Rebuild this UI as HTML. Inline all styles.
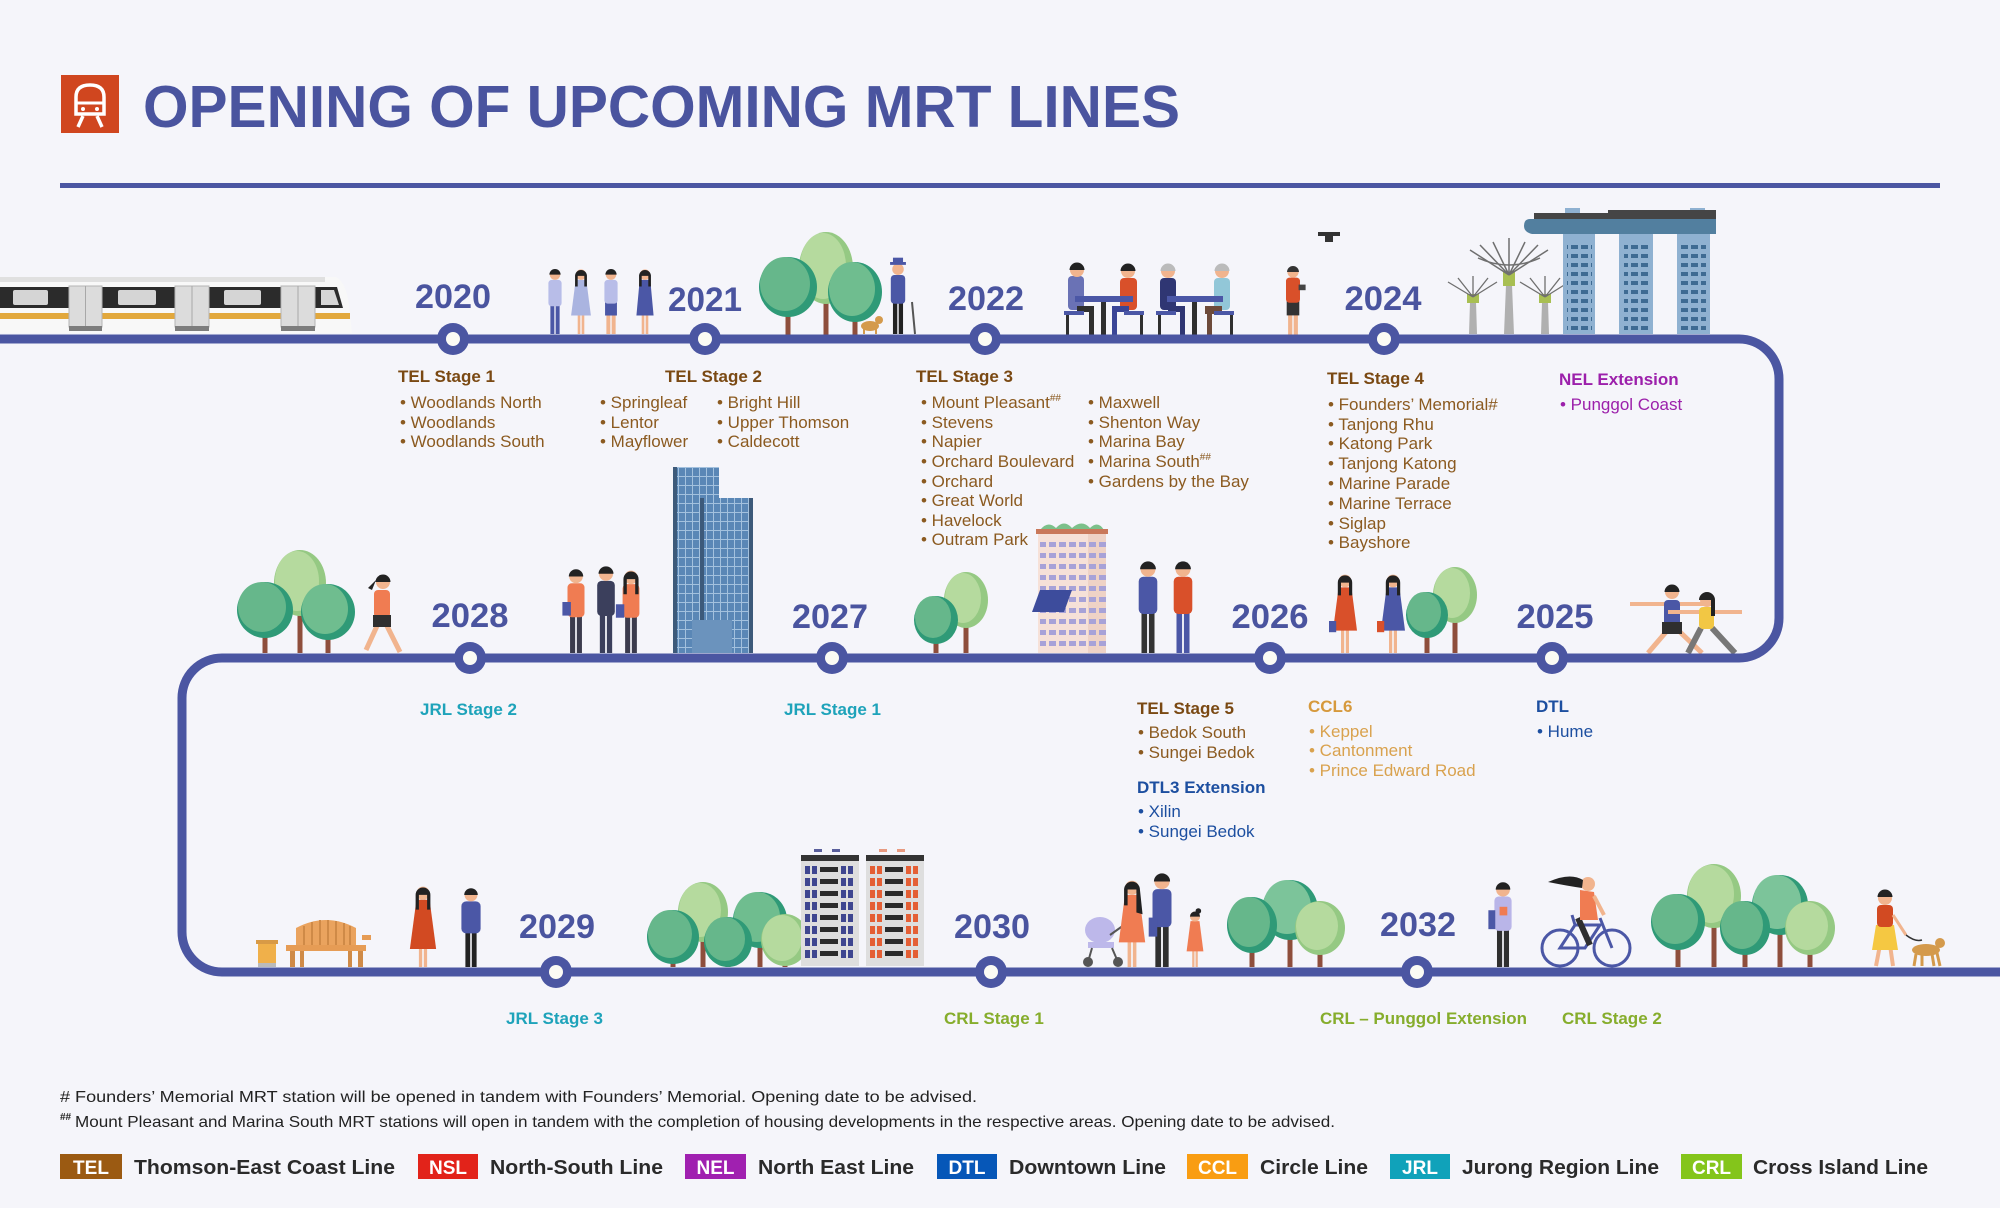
<!DOCTYPE html>
<html><head><meta charset="utf-8">
<style>
html,body{margin:0;padding:0;background:#f5f5fa;}
svg{display:block}
text{font-family:"Liberation Sans",Arial,sans-serif}
.yr{font-size:34px;font-weight:bold;fill:#4a549f;text-anchor:middle}
.lb{font-size:17px;font-weight:bold}
.st{font-size:17px}
.telL{fill:#7a4913}.tel{fill:#8b5a20}
.nel{fill:#9c20ab}.dtl{fill:#1d4fa0}.ccl{fill:#d9a24e}.cclL{fill:#d6993c}
.jrl{fill:#1ea3ba}.crl{fill:#86ad2c}
.fn{font-size:16px;fill:#222}
.lg{font-size:20px;font-weight:bold;fill:#2a2a2a}
.bx{font-size:19px;font-weight:bold;fill:#fff;text-anchor:middle}
</style></head><body>
<svg width="2000" height="1208" viewBox="0 0 2000 1208" xmlns="http://www.w3.org/2000/svg">
<defs>
<pattern id="tw" width="7" height="9" patternUnits="userSpaceOnUse"><rect width="7" height="9" fill="#5a87b6"/><rect x="6" width="1" height="9" fill="#a3c1de"/><rect y="8" width="7" height="1" fill="#a3c1de"/></pattern>
<pattern id="mbs" x="0" y="0" width="10" height="9" patternUnits="userSpaceOnUse"><rect x="1" y="2" width="7" height="4" fill="#3e6b93"/></pattern>
<pattern id="hdb2" x="1038" y="540" width="10" height="11" patternUnits="userSpaceOnUse"><rect x="1" y="2" width="7" height="5" fill="#a7a2d8"/></pattern>
<pattern id="hdbL" x="801" y="866" width="58" height="12" patternUnits="userSpaceOnUse"><rect x="4" y="0" width="5" height="8" fill="#3e4690"/><rect x="11" y="0" width="5" height="8" fill="#3e4690"/><rect x="19" y="1" width="18" height="5" fill="#2b2b2b"/><rect x="40" y="0" width="5" height="8" fill="#3e4690"/><rect x="47" y="0" width="5" height="8" fill="#3e4690"/></pattern>
<pattern id="hdbR" x="866" y="866" width="58" height="12" patternUnits="userSpaceOnUse"><rect x="4" y="0" width="5" height="8" fill="#e45f35"/><rect x="11" y="0" width="5" height="8" fill="#e45f35"/><rect x="19" y="1" width="18" height="5" fill="#2b2b2b"/><rect x="40" y="0" width="5" height="8" fill="#e45f35"/><rect x="47" y="0" width="5" height="8" fill="#e45f35"/></pattern>
</defs>
<rect width="2000" height="1208" fill="#f5f5fa"/>

<!-- Header -->
<rect x="61" y="75" width="58" height="58" fill="#d0461f"/>
<path d="M76 114 V97 Q76 85 90 85 Q104 85 104 97 V114 Z" stroke="#fff" stroke-width="3.5" fill="none"/>
<line x1="76" y1="103" x2="104" y2="103" stroke="#fff" stroke-width="3"/>
<circle cx="83" cy="109" r="2" fill="#fff"/><circle cx="97" cy="109" r="2" fill="#fff"/>
<line x1="83" y1="116" x2="78" y2="127" stroke="#fff" stroke-width="3.5"/>
<line x1="97" y1="116" x2="102" y2="127" stroke="#fff" stroke-width="3.5"/>
<text x="143" y="127" font-size="59" font-weight="bold" fill="#4a549f" textLength="1037" lengthAdjust="spacingAndGlyphs">OPENING OF UPCOMING MRT LINES</text>
<rect x="60" y="183" width="1880" height="5" fill="#4b56a2"/>

<!-- ===== Row 1 illustrations ===== -->
<!-- Train -->
<g>
<rect x="0" y="277" width="330" height="56" fill="#f8f8f8"/>
<rect x="0" y="277" width="326" height="5" fill="#e0e0e0"/>
<path d="M325 277 L336 277 Q346 282 349 305 L352 333 L325 333 Z" fill="#f8f8f8"/>
<rect x="0" y="287" width="322" height="21" fill="#2b2b2b"/>
<path d="M318 287 L337 287 L343 308 L318 308 Z" fill="#2b2b2b"/>
<path d="M321 290 L334 290 L339 305 L321 305 Z" fill="#d6d6d6"/>
<rect x="13" y="290" width="35" height="15" rx="2" fill="#d5d5d5"/>
<rect x="118" y="290" width="38" height="15" rx="2" fill="#d5d5d5"/>
<rect x="224" y="290" width="37" height="15" rx="2" fill="#d5d5d5"/>
<rect x="0" y="313" width="350" height="6" fill="#e2a83c"/>
<rect x="69" y="286" width="33" height="41" fill="#dcdcdc" stroke="#b5b5b5"/><line x1="85.5" y1="286" x2="85.5" y2="327" stroke="#a8a8a8"/><rect x="69" y="326" width="33" height="5" fill="#7d7d7d"/>
<rect x="175" y="286" width="34" height="41" fill="#dcdcdc" stroke="#b5b5b5"/><line x1="192" y1="286" x2="192" y2="327" stroke="#a8a8a8"/><rect x="175" y="326" width="34" height="5" fill="#7d7d7d"/>
<rect x="281" y="286" width="34" height="41" fill="#dcdcdc" stroke="#b5b5b5"/><line x1="298" y1="286" x2="298" y2="327" stroke="#a8a8a8"/><rect x="281" y="326" width="34" height="5" fill="#7d7d7d"/>
</g>

<!-- Children -->
<g transform="translate(555 334) scale(0.66)"><rect x="-7" y="-47" width="6" height="47" fill="#4b57a6"/><rect x="1" y="-47" width="6" height="47" fill="#4b57a6"/><rect x="-10" y="-82" width="20" height="40" rx="5" fill="#b8bde8"/><circle cy="-90" r="8" fill="#f1b48e"/><path d="M-8.5 -90 A8.5 8.5 0 0 1 8.5 -90 Z" fill="#222"/></g>
<g transform="translate(581 334) scale(0.66)"><rect x="-5" y="-30" width="4" height="30" fill="#f1b48e"/><rect x="1" y="-30" width="4" height="30" fill="#f1b48e"/><path d="M-8 -82 L8 -82 L15 -28 L-15 -28 Z" fill="#aab4e0"/><circle cy="-90" r="8" fill="#f1b48e"/><path d="M-9 -88 A9 9 0 0 1 9 -88 L9 -72 L5 -72 L5 -88 L-5 -88 L-5 -72 L-9 -72 Z" fill="#222"/></g>
<g transform="translate(611 334) scale(0.66)"><rect x="-7" y="-47" width="6" height="47" fill="#f1b48e"/><rect x="1" y="-47" width="6" height="47" fill="#f1b48e"/><rect x="-9" y="-50" width="18" height="22" fill="#4b57a6"/><rect x="-10" y="-82" width="20" height="36" rx="5" fill="#b8bde8"/><circle cy="-90" r="8" fill="#f1b48e"/><path d="M-8.5 -90 A8.5 8.5 0 0 1 8.5 -90 Z" fill="#222"/></g>
<g transform="translate(645 334) scale(0.66)"><rect x="-5" y="-30" width="4" height="30" fill="#f1b48e"/><rect x="1" y="-30" width="4" height="30" fill="#f1b48e"/><path d="M-8 -82 L8 -82 L13 -28 L-13 -28 Z" fill="#4b57a6"/><circle cy="-90" r="8" fill="#f1b48e"/><path d="M-9 -88 A9 9 0 0 1 9 -88 L9 -72 L5 -72 L5 -88 L-5 -88 L-5 -72 L-9 -72 Z" fill="#222"/></g>

<!-- 2021 trees -->
<g>
<rect x="823.5" y="268" width="5" height="67" fill="#8e4e3c"/>
<ellipse cx="826" cy="268" rx="27" ry="36" fill="#95c983"/><ellipse cx="823" cy="266" rx="23" ry="33" fill="#b5da9e"/>
<rect x="785.5" y="287" width="5" height="48" fill="#8e4e3c"/>
<ellipse cx="788" cy="287" rx="29" ry="30" fill="#2f9a77"/><ellipse cx="785" cy="284" rx="25" ry="27" fill="#66b78b"/>
<rect x="852.5" y="292" width="5" height="43" fill="#8e4e3c"/>
<ellipse cx="855" cy="292" rx="27" ry="30" fill="#2f9a77"/><ellipse cx="852" cy="289" rx="23" ry="27" fill="#6fbd8f"/>
</g>
<!-- old man + dog -->
<g transform="translate(898 334) scale(0.72)"><rect x="-7" y="-47" width="6" height="47" fill="#222"/><rect x="1" y="-47" width="6" height="47" fill="#222"/><rect x="-10" y="-82" width="20" height="40" rx="5" fill="#4b57a6"/><circle cy="-90" r="8" fill="#f1b48e"/><rect x="-11" y="-100" width="22" height="4" fill="#4b57a6"/><rect x="-7" y="-106" width="14" height="8" fill="#4b57a6"/></g>
<line x1="912" y1="302" x2="915" y2="334" stroke="#555" stroke-width="2"/>
<ellipse cx="870" cy="326" rx="9" ry="5" fill="#d49a4c"/><circle cx="879" cy="320" r="4" fill="#d49a4c"/><rect x="863" y="328" width="2" height="6" fill="#d49a4c"/><rect x="875" y="328" width="2" height="6" fill="#d49a4c"/>

<!-- 2022 tables -->
<g>
<rect x="1068" y="276" width="16" height="34" rx="4" fill="#6a72b5"/><circle cx="1077" cy="270" r="7" fill="#f1b48e"/><path d="M1069.5 270 A7.5 7.5 0 0 1 1084.5 270 Z" fill="#222"/>
<rect x="1077" y="306" width="17" height="6" fill="#2f2f2f"/><rect x="1089" y="306" width="5" height="29" fill="#2f2f2f"/>
<rect x="1120" y="278" width="17" height="32" rx="4" fill="#d9502a"/><circle cx="1128" cy="271" r="7" fill="#f1b48e"/><path d="M1120.5 271 A7.5 7.5 0 0 1 1135.5 271 Z" fill="#222"/>
<rect x="1112" y="306" width="17" height="6" fill="#3a4597"/><rect x="1112" y="306" width="5" height="29" fill="#3a4597"/>
<rect x="1075" y="296" width="58" height="6" fill="#4b57a6"/><rect x="1101" y="302" width="5" height="33" fill="#2f2f2f"/>
<rect x="1064" y="311" width="20" height="4" fill="#4b57a6"/><rect x="1124" y="311" width="20" height="4" fill="#4b57a6"/>
<rect x="1066" y="315" width="3" height="20" fill="#2f2f2f"/><rect x="1140" y="315" width="3" height="20" fill="#2f2f2f"/>

<rect x="1160" y="278" width="16" height="32" rx="4" fill="#2f3673"/><circle cx="1168" cy="271" r="7" fill="#f1b48e"/><path d="M1160.5 271 A7.5 7.5 0 0 1 1175.5 271 Z" fill="#bbb"/>
<rect x="1168" y="306" width="17" height="6" fill="#2f3673"/><rect x="1180" y="306" width="5" height="29" fill="#2f3673"/>
<rect x="1214" y="278" width="16" height="32" rx="4" fill="#92c7d8"/><circle cx="1222" cy="271" r="7" fill="#f1b48e"/><path d="M1214.5 271 A7.5 7.5 0 0 1 1229.5 271 Z" fill="#bbb"/>
<rect x="1205" y="306" width="17" height="8" fill="#6d4a3a"/><rect x="1207" y="306" width="5" height="29" fill="#6d4a3a"/>
<rect x="1167" y="296" width="56" height="6" fill="#4b57a6"/><rect x="1192" y="302" width="5" height="33" fill="#2f2f2f"/>
<rect x="1156" y="311" width="20" height="4" fill="#4b57a6"/><rect x="1214" y="311" width="20" height="4" fill="#4b57a6"/>
<rect x="1158" y="315" width="3" height="20" fill="#2f2f2f"/><rect x="1230" y="315" width="3" height="20" fill="#2f2f2f"/>
</g>
<!-- phone person -->
<g transform="translate(1293 335) scale(0.7)"><rect x="-7" y="-47" width="6" height="47" fill="#f1b48e"/><rect x="1" y="-47" width="6" height="47" fill="#f1b48e"/><rect x="-9" y="-50" width="18" height="22" fill="#333"/><rect x="-10" y="-82" width="20" height="36" rx="5" fill="#d9502a"/><circle cy="-90" r="8" fill="#f1b48e"/><path d="M-8.5 -90 A8.5 8.5 0 0 1 8.5 -90 Z" fill="#333"/><rect x="8" y="-72" width="10" height="8" fill="#444"/></g>
<!-- drone -->
<rect x="1318" y="232" width="22" height="4" fill="#333"/><rect x="1325" y="236" width="8" height="6" fill="#333"/>

<!-- Supertrees -->
<g>
<path d="M1504 334 L1506 285 L1512 285 L1514 334 Z" fill="#b0b0b0"/>
<rect x="1503" y="272" width="12" height="14" fill="#a8bf52"/>
<g stroke="#6f6f6f" stroke-width="1.5" fill="none">
<path d="M1509 275 L1470 250 M1509 275 L1480 245 M1509 275 L1493 242 M1509 275 L1509 238 M1509 275 L1525 242 M1509 275 L1538 245 M1509 275 L1548 250"/>
<path d="M1478 258 Q1509 272 1540 258"/>
</g>
<path d="M1469 334 L1470 302 L1476 302 L1477 334 Z" fill="#b0b0b0"/>
<rect x="1467" y="294" width="12" height="9" fill="#a8bf52"/>
<g stroke="#6f6f6f" stroke-width="1.3" fill="none"><path d="M1473 297 L1448 282 M1473 297 L1458 278 M1473 297 L1473 276 M1473 297 L1488 278 M1473 297 L1497 282"/></g>
<path d="M1541 334 L1542 302 L1548 302 L1549 334 Z" fill="#b0b0b0"/>
<rect x="1539" y="294" width="12" height="9" fill="#a8bf52"/>
<g stroke="#6f6f6f" stroke-width="1.3" fill="none"><path d="M1545 297 L1520 282 M1545 297 L1530 278 M1545 297 L1545 276 M1545 297 L1560 278 M1545 297 L1569 282"/></g>
</g>
<!-- MBS -->
<g>
<rect x="1565" y="208" width="15" height="16" fill="#8fb1d1"/><rect x="1690" y="208" width="15" height="16" fill="#8fb1d1"/>
<rect x="1563" y="226" width="32" height="108" fill="#8fb1d1"/>
<rect x="1619" y="226" width="34" height="108" fill="#8fb1d1"/>
<rect x="1677" y="226" width="33" height="108" fill="#8fb1d1"/>
<rect x="1567" y="240" width="25" height="90" fill="url(#mbs)"/>
<rect x="1624" y="240" width="25" height="90" fill="url(#mbs)"/>
<rect x="1681" y="240" width="25" height="90" fill="url(#mbs)"/>
<rect x="1534" y="213" width="182" height="6" fill="#454545"/><rect x="1608" y="210" width="108" height="5" fill="#454545"/>
<path d="M1530 219 L1716 219 L1716 234 L1532 234 Q1524 232 1524 226 Q1524 219 1530 219 Z" fill="#527f9f"/>
</g>

<!-- ===== Row 2 illustrations ===== -->
<!-- 2028 trees -->
<g>
<rect x="297.5" y="583" width="5" height="70" fill="#8e4e3c"/>
<ellipse cx="300" cy="583" rx="26" ry="33" fill="#95c983"/><ellipse cx="297" cy="581" rx="22" ry="30" fill="#b5da9e"/>
<rect x="262.5" y="610" width="5" height="43" fill="#8e4e3c"/>
<ellipse cx="265" cy="610" rx="28" ry="28" fill="#2f9a77"/><ellipse cx="262" cy="607" rx="24" ry="25" fill="#66b78b"/>
<rect x="325.5" y="612" width="5" height="41" fill="#8e4e3c"/>
<ellipse cx="328" cy="612" rx="27" ry="28" fill="#2f9a77"/><ellipse cx="325" cy="609" rx="23" ry="25" fill="#6fbd8f"/>
</g>
<!-- runner -->
<g>
<line x1="377" y1="626" x2="366" y2="650" stroke="#f1b48e" stroke-width="5"/><line x1="387" y1="626" x2="400" y2="652" stroke="#f1b48e" stroke-width="5"/>
<rect x="374" y="590" width="16" height="28" rx="4" fill="#f07c52"/><rect x="373" y="615" width="18" height="12" fill="#2f2f2f"/>
<circle cx="383" cy="582" r="7" fill="#f1b48e"/><path d="M375.5 582 A7.5 7.5 0 0 1 390.5 582 Z" fill="#222"/><path d="M376 580 L368 588 L372 590 Z" fill="#222"/>
</g>
<!-- business people -->
<g transform="translate(576 653) scale(0.85)"><rect x="-7" y="-47" width="6" height="47" fill="#3b3b4d"/><rect x="1" y="-47" width="6" height="47" fill="#3b3b4d"/><rect x="-10" y="-82" width="20" height="40" rx="5" fill="#f07c52"/><circle cy="-90" r="8" fill="#f1b48e"/><path d="M-8.5 -90 A8.5 8.5 0 0 1 8.5 -90 Z" fill="#222"/><rect x="-16" y="-60" width="10" height="16" fill="#4b57a6"/></g>
<g transform="translate(606 653) scale(0.88)"><rect x="-7" y="-47" width="6" height="47" fill="#3b3f5c"/><rect x="1" y="-47" width="6" height="47" fill="#3b3f5c"/><rect x="-10" y="-82" width="20" height="40" rx="5" fill="#3b3f5c"/><circle cy="-90" r="8" fill="#f1b48e"/><path d="M-8.5 -90 A8.5 8.5 0 0 1 8.5 -90 Z" fill="#222"/></g>
<g transform="translate(631 653) scale(0.84)"><rect x="-7" y="-47" width="6" height="47" fill="#3b3b4d"/><rect x="1" y="-47" width="6" height="47" fill="#3b3b4d"/><rect x="-10" y="-82" width="20" height="40" rx="5" fill="#f07c52"/><circle cy="-90" r="8" fill="#f1b48e"/><path d="M-9 -88 A9 9 0 0 1 9 -88 L9 -70 L5 -70 L5 -88 L-5 -88 L-5 -70 L-9 -70 Z" fill="#222"/><rect x="-18" y="-58" width="10" height="16" fill="#4b57a6"/></g>
<!-- tower -->
<g>
<rect x="673" y="467" width="46" height="186" fill="url(#tw)"/>
<rect x="673" y="467" width="4" height="186" fill="#3d5a7a"/>
<rect x="700" y="498" width="53" height="155" fill="url(#tw)"/>
<rect x="700" y="498" width="4" height="155" fill="#3d5a7a"/><rect x="749" y="498" width="4" height="155" fill="#3d5a7a"/>
<rect x="692" y="620" width="40" height="33" fill="#6b93bd"/>
</g>
<!-- 2027 trees -->
<g>
<rect x="963.5" y="600" width="5" height="53" fill="#8e4e3c"/>
<ellipse cx="966" cy="600" rx="22" ry="28" fill="#95c983"/><ellipse cx="963" cy="598" rx="18" ry="25" fill="#b5da9e"/>
<rect x="933.5" y="620" width="5" height="33" fill="#8e4e3c"/>
<ellipse cx="936" cy="620" rx="22" ry="24" fill="#2f9a77"/><ellipse cx="933" cy="617" rx="18" ry="21" fill="#66b78b"/>
</g>
<!-- HDB row 2 -->
<g>
<path d="M1040 530 Q1048 520 1056 528 Q1064 519 1072 528 Q1082 519 1090 528 Q1098 520 1104 530 Z" fill="#7cc08a"/>
<rect x="1036" y="529" width="72" height="5" fill="#c9785a"/>
<rect x="1038" y="534" width="68" height="119" fill="#f6e1d8"/>
<rect x="1088" y="534" width="18" height="119" fill="#eed2c6"/>
<rect x="1040" y="538" width="66" height="114" fill="url(#hdb2)"/>
<path d="M1032 612 L1040 590 L1072 590 L1064 612 Z" fill="#3d4c9c"/>
</g>
<!-- two men -->
<g transform="translate(1148 653) scale(0.93)"><rect x="-7" y="-47" width="6" height="47" fill="#333"/><rect x="1" y="-47" width="6" height="47" fill="#333"/><rect x="-10" y="-82" width="20" height="40" rx="5" fill="#4b57a6"/><circle cy="-90" r="8" fill="#f1b48e"/><path d="M-8.5 -90 A8.5 8.5 0 0 1 8.5 -90 Z" fill="#222"/></g>
<g transform="translate(1183 653) scale(0.93)"><rect x="-7" y="-47" width="6" height="47" fill="#4b57a6"/><rect x="1" y="-47" width="6" height="47" fill="#4b57a6"/><rect x="-10" y="-82" width="20" height="40" rx="5" fill="#d9502a"/><circle cy="-90" r="8" fill="#f1b48e"/><path d="M-8.5 -90 A8.5 8.5 0 0 1 8.5 -90 Z" fill="#222"/></g>
<!-- women -->
<g transform="translate(1345 653) scale(0.8)"><rect x="-5" y="-30" width="4" height="30" fill="#f1b48e"/><rect x="1" y="-30" width="4" height="30" fill="#f1b48e"/><path d="M-8 -82 L8 -82 L15 -28 L-15 -28 Z" fill="#d9502a"/><circle cy="-90" r="8" fill="#f1b48e"/><path d="M-9 -88 A9 9 0 0 1 9 -88 L9 -72 L5 -72 L5 -88 L-5 -88 L-5 -72 L-9 -72 Z" fill="#222"/><rect x="-20" y="-40" width="9" height="14" fill="#4b57a6"/></g>
<g transform="translate(1393 653) scale(0.8)"><rect x="-5" y="-30" width="4" height="30" fill="#f1b48e"/><rect x="1" y="-30" width="4" height="30" fill="#f1b48e"/><path d="M-8 -82 L8 -82 L15 -28 L-15 -28 Z" fill="#4b57a6"/><circle cy="-90" r="8" fill="#f1b48e"/><path d="M-9 -88 A9 9 0 0 1 9 -88 L9 -72 L5 -72 L5 -88 L-5 -88 L-5 -72 L-9 -72 Z" fill="#222"/><rect x="-20" y="-40" width="9" height="14" fill="#d9502a"/></g>
<!-- 2026 trees -->
<g>
<rect x="1452.5" y="595" width="5" height="58" fill="#8e4e3c"/>
<ellipse cx="1455" cy="595" rx="22" ry="28" fill="#95c983"/><ellipse cx="1452" cy="593" rx="18" ry="25" fill="#b5da9e"/>
<rect x="1424.5" y="615" width="5" height="38" fill="#8e4e3c"/>
<ellipse cx="1427" cy="615" rx="21" ry="23" fill="#2f9a77"/><ellipse cx="1424" cy="612" rx="17" ry="20" fill="#66b78b"/>
</g>
<!-- yoga -->
<g>
<line x1="1630" y1="604" x2="1715" y2="604" stroke="#f1b48e" stroke-width="4"/>
<line x1="1666" y1="632" x2="1648" y2="653" stroke="#f1b48e" stroke-width="5"/><line x1="1680" y1="632" x2="1702" y2="653" stroke="#f1b48e" stroke-width="5"/>
<rect x="1664" y="600" width="16" height="26" rx="4" fill="#4b57a6"/><rect x="1662" y="622" width="20" height="12" fill="#2f2f2f"/>
<circle cx="1672" cy="592" r="7" fill="#f1b48e"/><path d="M1664.5 592 A7.5 7.5 0 0 1 1679.5 592 Z" fill="#222"/>
<line x1="1668" y1="612" x2="1742" y2="612" stroke="#f1b48e" stroke-width="4"/>
<line x1="1701" y1="628" x2="1688" y2="653" stroke="#777" stroke-width="6"/><line x1="1712" y1="628" x2="1735" y2="653" stroke="#777" stroke-width="6"/>
<rect x="1699" y="607" width="15" height="22" rx="4" fill="#f2c744"/>
<circle cx="1707" cy="600" r="7" fill="#f1b48e"/><path d="M1699 600 A8 8 0 0 1 1715 600 L1715 616 L1711 616 L1711 600 Z" fill="#222"/>
</g>

<!-- ===== Row 3 illustrations ===== -->
<!-- bin & bench -->
<rect x="256" y="940" width="22" height="4" fill="#d89a46"/><rect x="258" y="944" width="18" height="20" fill="#f0b04a"/><rect x="258" y="963" width="18" height="4" fill="#bbb"/>
<g>
<path d="M296 949 L296 928 Q326 912 356 928 L356 949 Z" fill="#eaa35e"/>
<g stroke="#cf8a47" stroke-width="2"><line x1="304" y1="926" x2="304" y2="946"/><line x1="312" y1="922" x2="312" y2="946"/><line x1="320" y1="920" x2="320" y2="946"/><line x1="328" y1="920" x2="328" y2="946"/><line x1="336" y1="921" x2="336" y2="946"/><line x1="344" y1="923" x2="344" y2="946"/><line x1="350" y1="926" x2="350" y2="946"/></g>
<rect x="286" y="945" width="80" height="6" fill="#e69c55"/>
<rect x="290" y="951" width="5" height="16" fill="#cf8a47"/><rect x="358" y="951" width="5" height="16" fill="#cf8a47"/>
<rect x="300" y="951" width="4" height="16" fill="#cf8a47"/><rect x="348" y="951" width="4" height="16" fill="#cf8a47"/>
<rect x="362" y="935" width="9" height="5" fill="#e69c55"/>
</g>
<!-- couple -->
<g transform="translate(423 967) scale(0.82)"><rect x="-5" y="-30" width="4" height="30" fill="#f1b48e"/><rect x="1" y="-30" width="4" height="30" fill="#f1b48e"/><path d="M-8 -82 L8 -82 L16 -22 L-16 -22 Z" fill="#d24a22"/><circle cy="-90" r="8" fill="#f1b48e"/><path d="M-9 -88 A9 9 0 0 1 9 -88 L9 -70 L5 -70 L5 -88 L-5 -88 L-5 -70 L-9 -70 Z" fill="#222"/></g>
<g transform="translate(471 967) scale(0.8)"><rect x="-7" y="-47" width="6" height="47" fill="#222"/><rect x="1" y="-47" width="6" height="47" fill="#222"/><rect x="-12" y="-82" width="24" height="40" rx="6" fill="#4b57a6"/><circle cy="-90" r="8" fill="#f1b48e"/><path d="M-8.5 -90 A8.5 8.5 0 0 1 8.5 -90 Z" fill="#222"/></g>
<!-- tree cluster 1 -->
<g>
<rect x="700.5" y="912" width="5" height="55" fill="#8e4e3c"/>
<ellipse cx="703" cy="912" rx="25" ry="30" fill="#95c983"/><ellipse cx="700" cy="910" rx="21" ry="27" fill="#b5da9e"/>
<rect x="757.5" y="920" width="5" height="47" fill="#8e4e3c"/>
<ellipse cx="760" cy="920" rx="27" ry="28" fill="#2f9a77"/><ellipse cx="757" cy="917" rx="23" ry="25" fill="#6fbd8f"/>
<rect x="670.5" y="937" width="5" height="30" fill="#8e4e3c"/>
<ellipse cx="673" cy="937" rx="26" ry="27" fill="#2f9a77"/><ellipse cx="670" cy="934" rx="22" ry="24" fill="#66b78b"/>
<rect x="725.5" y="942" width="5" height="25" fill="#8e4e3c"/>
<ellipse cx="728" cy="942" rx="24" ry="25" fill="#2f9a77"/><ellipse cx="725" cy="939" rx="20" ry="22" fill="#66b78b"/>
<rect x="782.5" y="940" width="5" height="27" fill="#8e4e3c"/>
<ellipse cx="785" cy="940" rx="24" ry="26" fill="#95c983"/><ellipse cx="782" cy="938" rx="20" ry="23" fill="#b5da9e"/>
</g>
<!-- HDB blocks row 3 -->
<g>
<rect x="814" y="849" width="8" height="3" fill="#5a5f9c"/><rect x="832" y="849" width="8" height="3" fill="#5a5f9c"/>
<rect x="879" y="849" width="8" height="3" fill="#e89a80"/><rect x="897" y="849" width="8" height="3" fill="#e89a80"/>
<rect x="801" y="855" width="58" height="111" fill="#dedede"/><rect x="801" y="855" width="58" height="6" fill="#333"/>
<rect x="801" y="866" width="58" height="96" fill="url(#hdbL)"/>
<rect x="866" y="855" width="58" height="111" fill="#dedede"/><rect x="866" y="855" width="58" height="6" fill="#333"/>
<rect x="866" y="866" width="58" height="96" fill="url(#hdbR)"/>
</g>
<!-- family -->
<g>
<ellipse cx="1100" cy="930" rx="15" ry="13" fill="#bdb8ea"/><rect x="1088" y="942" width="26" height="6" fill="#bdb8ea"/>
<line x1="1092" y1="948" x2="1088" y2="962" stroke="#555" stroke-width="2"/><line x1="1112" y1="948" x2="1118" y2="962" stroke="#555" stroke-width="2"/>
<line x1="1110" y1="935" x2="1124" y2="925" stroke="#555" stroke-width="2"/>
<circle cx="1088" cy="962" r="5" fill="#555"/><circle cx="1118" cy="962" r="5" fill="#555"/>
</g>
<g transform="translate(1132 967) scale(0.88)"><rect x="-5" y="-30" width="4" height="30" fill="#f1b48e"/><rect x="1" y="-30" width="4" height="30" fill="#f1b48e"/><path d="M-8 -82 L8 -82 L15 -28 L-15 -28 Z" fill="#f07c52"/><circle cy="-90" r="8" fill="#f1b48e"/><path d="M-9 -88 A9 9 0 0 1 9 -88 L12 -60 L5 -62 L5 -88 L-5 -88 L-5 -70 L-9 -70 Z" fill="#222"/></g>
<g transform="translate(1162 967) scale(0.95)"><rect x="-7" y="-47" width="6" height="47" fill="#2f2f2f"/><rect x="1" y="-47" width="6" height="47" fill="#2f2f2f"/><rect x="-10" y="-82" width="20" height="40" rx="5" fill="#4b57a6"/><circle cy="-90" r="8" fill="#f1b48e"/><path d="M-8.5 -90 A8.5 8.5 0 0 1 8.5 -90 Z" fill="#222"/><rect x="-14" y="-52" width="9" height="20" fill="#4b57a6"/></g>
<g transform="translate(1195 967) scale(0.56)"><rect x="-5" y="-30" width="4" height="30" fill="#f1b48e"/><rect x="1" y="-30" width="4" height="30" fill="#f1b48e"/><path d="M-8 -82 L8 -82 L15 -28 L-15 -28 Z" fill="#f07c52"/><circle cy="-90" r="9" fill="#f1b48e"/><path d="M-9 -90 A9 9 0 0 1 9 -90 Z" fill="#222"/><circle cx="6" cy="-100" r="5" fill="#222"/></g>
<!-- tree cluster 2 -->
<g>
<rect x="1287.5" y="910" width="5" height="57" fill="#8e4e3c"/>
<ellipse cx="1290" cy="910" rx="28" ry="30" fill="#2f9a77"/><ellipse cx="1287" cy="907" rx="24" ry="27" fill="#7cc49a"/>
<rect x="1249.5" y="925" width="5" height="42" fill="#8e4e3c"/>
<ellipse cx="1252" cy="925" rx="25" ry="28" fill="#2f9a77"/><ellipse cx="1249" cy="922" rx="21" ry="25" fill="#66b78b"/>
<rect x="1317.5" y="928" width="5" height="39" fill="#8e4e3c"/>
<ellipse cx="1320" cy="928" rx="25" ry="27" fill="#95c983"/><ellipse cx="1317" cy="926" rx="21" ry="24" fill="#b5da9e"/>
</g>
<!-- standing person -->
<g transform="translate(1503 967) scale(0.86)"><rect x="-7" y="-47" width="6" height="47" fill="#2f2f2f"/><rect x="1" y="-47" width="6" height="47" fill="#2f2f2f"/><rect x="-10" y="-82" width="20" height="40" rx="5" fill="#b9b5e8"/><circle cy="-90" r="8" fill="#f1b48e"/><path d="M-8.5 -90 A8.5 8.5 0 0 1 8.5 -90 Z" fill="#222"/><rect x="-17" y="-66" width="8" height="22" fill="#4b57a6"/><rect x="-4" y="-70" width="9" height="10" fill="#f07c52"/></g>
<!-- cyclist -->
<g>
<circle cx="1560" cy="948" r="18" stroke="#4b57a6" stroke-width="3" fill="none"/>
<circle cx="1612" cy="948" r="18" stroke="#4b57a6" stroke-width="3" fill="none"/>
<path d="M1560 948 L1585 948 L1600 925 L1575 925 Z M1612 948 L1600 918 M1575 925 L1572 915" stroke="#4b57a6" stroke-width="3" fill="none"/>
<line x1="1578" y1="918" x2="1590" y2="945" stroke="#2f2f2f" stroke-width="6"/>
<path d="M1580 890 L1594 892 L1598 920 L1580 920 Z" fill="#f07c52"/>
<line x1="1594" y1="896" x2="1604" y2="915" stroke="#f1b48e" stroke-width="4"/>
<circle cx="1588" cy="884" r="7" fill="#f1b48e"/>
<path d="M1583 880 Q1570 872 1548 882 Q1568 886 1582 888 Z" fill="#222"/>
</g>
<!-- tree cluster 3 -->
<g>
<rect x="1711.5" y="896" width="5" height="71" fill="#8e4e3c"/>
<ellipse cx="1714" cy="896" rx="27" ry="32" fill="#95c983"/><ellipse cx="1711" cy="894" rx="23" ry="29" fill="#b5da9e"/>
<rect x="1777.5" y="905" width="5" height="62" fill="#8e4e3c"/>
<ellipse cx="1780" cy="905" rx="28" ry="30" fill="#2f9a77"/><ellipse cx="1777" cy="902" rx="24" ry="27" fill="#7cc49a"/>
<rect x="1675.5" y="922" width="5" height="45" fill="#8e4e3c"/>
<ellipse cx="1678" cy="922" rx="27" ry="28" fill="#2f9a77"/><ellipse cx="1675" cy="919" rx="23" ry="25" fill="#66b78b"/>
<rect x="1742.5" y="928" width="5" height="39" fill="#8e4e3c"/>
<ellipse cx="1745" cy="928" rx="25" ry="27" fill="#2f9a77"/><ellipse cx="1742" cy="925" rx="21" ry="24" fill="#66b78b"/>
<rect x="1807.5" y="928" width="5" height="39" fill="#8e4e3c"/>
<ellipse cx="1810" cy="928" rx="25" ry="27" fill="#95c983"/><ellipse cx="1807" cy="926" rx="21" ry="24" fill="#b5da9e"/>
</g>
<!-- woman with dog -->
<g>
<line x1="1880" y1="945" x2="1876" y2="966" stroke="#f1b48e" stroke-width="4"/><line x1="1890" y1="945" x2="1893" y2="966" stroke="#f1b48e" stroke-width="4"/>
<path d="M1876 925 L1894 925 L1898 950 L1872 950 Z" fill="#f5c842"/>
<rect x="1877" y="905" width="16" height="22" rx="4" fill="#d24a22"/>
<circle cx="1885" cy="898" r="7" fill="#f1b48e"/><path d="M1877.5 897 A7.5 7.5 0 0 1 1892.5 897 Z" fill="#222"/>
<line x1="1893" y1="915" x2="1906" y2="935" stroke="#f1b48e" stroke-width="3"/>
<path d="M1906 935 Q1915 942 1922 940" stroke="#333" stroke-width="1.5" fill="none"/>
<ellipse cx="1926" cy="950" rx="14" ry="6" fill="#d49a4c"/><circle cx="1940" cy="943" r="5" fill="#d49a4c"/>
<g stroke="#d49a4c" stroke-width="3"><line x1="1916" y1="954" x2="1914" y2="966"/><line x1="1922" y1="954" x2="1922" y2="966"/><line x1="1932" y1="954" x2="1934" y2="966"/><line x1="1937" y1="953" x2="1940" y2="966"/></g>
</g>

<!-- ===== Track ===== -->
<path d="M0 339 H1739 A40 40 0 0 1 1779 379 V618 A40 40 0 0 1 1739 658 H222 A40 40 0 0 0 182 698 V932 A40 40 0 0 0 222 972 H2000" stroke="#4b56a2" stroke-width="9" fill="none"/>
<g fill="#4b56a2">
<circle cx="453" cy="339" r="16"/><circle cx="705" cy="339" r="16"/><circle cx="985" cy="339" r="16"/><circle cx="1384" cy="339" r="16"/>
<circle cx="470" cy="658" r="16"/><circle cx="832" cy="658" r="16"/><circle cx="1270" cy="658" r="16"/><circle cx="1552" cy="658" r="16"/>
<circle cx="556" cy="972" r="16"/><circle cx="991" cy="972" r="16"/><circle cx="1417" cy="972" r="16"/>
</g>
<g fill="#fbfbf4">
<circle cx="453" cy="339" r="7"/><circle cx="705" cy="339" r="7"/><circle cx="985" cy="339" r="7"/><circle cx="1384" cy="339" r="7"/>
<circle cx="470" cy="658" r="7"/><circle cx="832" cy="658" r="7"/><circle cx="1270" cy="658" r="7"/><circle cx="1552" cy="658" r="7"/>
<circle cx="556" cy="972" r="7"/><circle cx="991" cy="972" r="7"/><circle cx="1417" cy="972" r="7"/>
</g>

<!-- Years -->
<text class="yr" x="453" y="308" textLength="76" lengthAdjust="spacingAndGlyphs">2020</text>
<text class="yr" x="705" y="311" textLength="74" lengthAdjust="spacingAndGlyphs">2021</text>
<text class="yr" x="986" y="310" textLength="76" lengthAdjust="spacingAndGlyphs">2022</text>
<text class="yr" x="1383" y="310" textLength="77" lengthAdjust="spacingAndGlyphs">2024</text>
<text class="yr" x="470" y="627" textLength="77" lengthAdjust="spacingAndGlyphs">2028</text>
<text class="yr" x="830" y="628" textLength="76" lengthAdjust="spacingAndGlyphs">2027</text>
<text class="yr" x="1270" y="628" textLength="77" lengthAdjust="spacingAndGlyphs">2026</text>
<text class="yr" x="1555" y="628" textLength="77" lengthAdjust="spacingAndGlyphs">2025</text>
<text class="yr" x="557" y="938" textLength="76" lengthAdjust="spacingAndGlyphs">2029</text>
<text class="yr" x="992" y="938" textLength="76" lengthAdjust="spacingAndGlyphs">2030</text>
<text class="yr" x="1418" y="936" textLength="76" lengthAdjust="spacingAndGlyphs">2032</text>

<!-- Row 1 text -->
<text class="lb telL" x="398" y="382">TEL Stage 1</text>
<text class="st tel" x="400" y="408">• Woodlands North</text>
<text class="st tel" x="400" y="428">• Woodlands</text>
<text class="st tel" x="400" y="447">• Woodlands South</text>

<text class="lb telL" x="665" y="382">TEL Stage 2</text>
<text class="st tel" x="600" y="408">• Springleaf</text>
<text class="st tel" x="600" y="428">• Lentor</text>
<text class="st tel" x="600" y="447">• Mayflower</text>
<text class="st tel" x="717" y="408">• Bright Hill</text>
<text class="st tel" x="717" y="428">• Upper Thomson</text>
<text class="st tel" x="717" y="447">• Caldecott</text>

<text class="lb telL" x="916" y="382">TEL Stage 3</text>
<text class="st tel" x="921" y="408">• Mount Pleasant<tspan font-size="10" dy="-7">##</tspan></text>
<text class="st tel" x="921" y="428">• Stevens</text>
<text class="st tel" x="921" y="447">• Napier</text>
<text class="st tel" x="921" y="467">• Orchard Boulevard</text>
<text class="st tel" x="921" y="487">• Orchard</text>
<text class="st tel" x="921" y="506">• Great World</text>
<text class="st tel" x="921" y="526">• Havelock</text>
<text class="st tel" x="921" y="545">• Outram Park</text>
<text class="st tel" x="1088" y="408">• Maxwell</text>
<text class="st tel" x="1088" y="428">• Shenton Way</text>
<text class="st tel" x="1088" y="447">• Marina Bay</text>
<text class="st tel" x="1088" y="467">• Marina South<tspan font-size="10" dy="-7">##</tspan></text>
<text class="st tel" x="1088" y="487">• Gardens by the Bay</text>

<text class="lb telL" x="1327" y="384">TEL Stage 4</text>
<text class="st tel" x="1328" y="410">• Founders’ Memorial#</text>
<text class="st tel" x="1328" y="430">• Tanjong Rhu</text>
<text class="st tel" x="1328" y="449">• Katong Park</text>
<text class="st tel" x="1328" y="469">• Tanjong Katong</text>
<text class="st tel" x="1328" y="489">• Marine Parade</text>
<text class="st tel" x="1328" y="509">• Marine Terrace</text>
<text class="st tel" x="1328" y="529">• Siglap</text>
<text class="st tel" x="1328" y="548">• Bayshore</text>

<text class="lb nel" x="1559" y="385">NEL Extension</text>
<text class="st nel" x="1560" y="410">• Punggol Coast</text>

<!-- Row 2 text -->
<text class="lb jrl" x="420" y="715">JRL Stage 2</text>
<text class="lb jrl" x="784" y="715">JRL Stage 1</text>

<text class="lb telL" x="1137" y="714">TEL Stage 5</text>
<text class="st tel" x="1138" y="738">• Bedok South</text>
<text class="st tel" x="1138" y="758">• Sungei Bedok</text>
<text class="lb dtl" x="1137" y="793">DTL3 Extension</text>
<text class="st dtl" x="1138" y="817">• Xilin</text>
<text class="st dtl" x="1138" y="837">• Sungei Bedok</text>

<text class="lb cclL" x="1308" y="712">CCL6</text>
<text class="st ccl" x="1309" y="737">• Keppel</text>
<text class="st ccl" x="1309" y="756">• Cantonment</text>
<text class="st ccl" x="1309" y="776">• Prince Edward Road</text>

<text class="lb dtl" x="1536" y="712">DTL</text>
<text class="st dtl" x="1537" y="737">• Hume</text>

<!-- Row 3 text -->
<text class="lb jrl" x="506" y="1024">JRL Stage 3</text>
<text class="lb crl" x="944" y="1024">CRL Stage 1</text>
<text class="lb crl" x="1320" y="1024" textLength="207" lengthAdjust="spacingAndGlyphs">CRL – Punggol Extension</text>
<text class="lb crl" x="1562" y="1024">CRL Stage 2</text>

<!-- Footnotes -->
<text class="fn" x="60" y="1102" textLength="917" lengthAdjust="spacingAndGlyphs"># Founders’ Memorial MRT station will be opened in tandem with Founders’ Memorial. Opening date to be advised.</text>
<text x="60" y="1120" font-size="10" font-weight="bold" fill="#222">##</text>
<text class="fn" x="75" y="1127" textLength="1260" lengthAdjust="spacingAndGlyphs">Mount Pleasant and Marina South MRT stations will open in tandem with the completion of housing developments in the respective areas. Opening date to be advised.</text>

<!-- Legend -->
<rect x="60" y="1154" width="62" height="25" fill="#9b5a12"/><text class="bx" x="91" y="1174">TEL</text>
<text class="lg" x="134" y="1174" textLength="261" lengthAdjust="spacingAndGlyphs">Thomson-East Coast Line</text>
<rect x="418" y="1154" width="60" height="25" fill="#e2231a"/><text class="bx" x="448" y="1174">NSL</text>
<text class="lg" x="490" y="1174" textLength="173" lengthAdjust="spacingAndGlyphs">North-South Line</text>
<rect x="685" y="1154" width="61" height="25" fill="#a020b0"/><text class="bx" x="715.5" y="1174">NEL</text>
<text class="lg" x="758" y="1174" textLength="156" lengthAdjust="spacingAndGlyphs">North East Line</text>
<rect x="937" y="1154" width="60" height="25" fill="#0657b8"/><text class="bx" x="967" y="1174">DTL</text>
<text class="lg" x="1009" y="1174" textLength="157" lengthAdjust="spacingAndGlyphs">Downtown Line</text>
<rect x="1187" y="1154" width="61" height="25" fill="#f99d12"/><text class="bx" x="1217.5" y="1174">CCL</text>
<text class="lg" x="1260" y="1174" textLength="108" lengthAdjust="spacingAndGlyphs">Circle Line</text>
<rect x="1390" y="1154" width="60" height="25" fill="#10a2ba"/><text class="bx" x="1420" y="1174">JRL</text>
<text class="lg" x="1462" y="1174" textLength="197" lengthAdjust="spacingAndGlyphs">Jurong Region Line</text>
<rect x="1681" y="1154" width="61" height="25" fill="#84c51b"/><text class="bx" x="1711.5" y="1174">CRL</text>
<text class="lg" x="1753" y="1174" textLength="175" lengthAdjust="spacingAndGlyphs">Cross Island Line</text>
</svg>
</body></html>
